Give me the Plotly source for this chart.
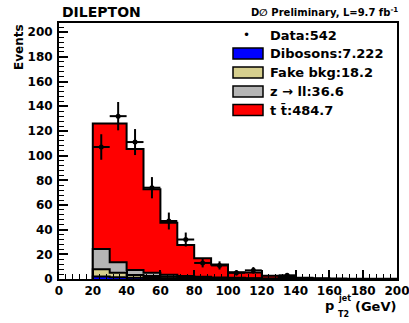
import numpy as np
import plotly.graph_objects as go

# bin edges (GeV), 10 GeV bins from 20 to 200
edges = [20, 30, 40, 50, 60, 70, 80, 90, 100, 110, 120, 130, 140, 150, 160, 170, 180, 190, 200]
centers = [25, 35, 45, 55, 65, 75, 85, 95, 105, 115, 125, 135, 145, 155, 165, 175, 185, 195]

# per-bin expectations
diboson = [2.0, 1.5, 1.0, 0.8, 0.6, 0.4, 0.3, 0.2, 0.15, 0.1, 0.05, 0.05, 0.03, 0.02, 0.01, 0.01, 0.0, 0.0]
fake = [5.9, 3.6, 2.2, 1.6, 1.3, 1.0, 0.8, 0.6, 0.4, 0.3, 0.2, 0.1, 0.1, 0.05, 0.03, 0.02, 0.01, 0.01]
zll = [16.5, 8.4, 4.1, 2.7, 1.5, 1.0, 0.7, 0.5, 0.4, 0.3, 0.2, 0.1, 0.08, 0.05, 0.03, 0.02, 0.01, 0.01]
ttbar = [101.6, 112.5, 98.1, 67.6, 42.2, 25.2, 15.0, 10.5, 4.5, 4.6, 2.2, 1.3, 0.9, 0.5, 0.35, 0.25, 0.15, 0.1]
data = [107, 132, 111, 74, 47, 32, 13, 11, 5, 7, 0, 3, 0, 0, 0, 0, 0, 0]

legend_labels = ["Data:542", "Dibosons:7.222", "Fake bkg:18.2", "z \u2192 ll:36.6", "t t\u0304:484.7"]

c_dib = "#0000ff"
c_fake = "#d6cf8e"
c_z = "#b5b5b5"
c_tt = "#ff0000"

s1 = np.array(diboson)
s2 = s1 + np.array(fake)
s3 = s2 + np.array(zll)
s4 = s3 + np.array(ttbar)

fig = go.Figure()

# cumulative step histograms, drawn top to bottom
for tot, col in [(s4, c_tt), (s3, c_z), (s2, c_fake), (s1, c_dib)]:
    xs = [edges[0]] + edges + [edges[-1]]
    ys = [0] + list(tot) + [tot[-1], 0]
    fig.add_trace(go.Scatter(x=xs, y=ys, mode="lines", line=dict(shape="hv", color="black", width=2),
                             fill="tozeroy", fillcolor=col, showlegend=False, hoverinfo="skip"))

d = np.array(data, dtype=float)
m = d > 0
fig.add_trace(go.Scatter(
    x=np.array(centers)[m], y=d[m], mode="markers",
    marker=dict(color="black", size=5),
    error_y=dict(type="data", array=np.sqrt(d[m]), color="black", thickness=2, width=0),
    error_x=dict(type="constant", value=5, color="black", thickness=2, width=0),
    showlegend=False))

fnt = "DejaVu Sans"

fig.update_xaxes(range=[0, 200], dtick=20, ticks="inside", ticklen=9, tickwidth=1.5, tickcolor="black",
                 minor=dict(ticks="inside", ticklen=5, dtick=4, tickcolor="black", tickwidth=1),
                 showline=True, linecolor="black", linewidth=2, mirror=True, showgrid=False, zeroline=False,
                 automargin=False, ticklabeloverflow="allow",
                 tickfont=dict(family=fnt, size=12, color="black", weight="bold"))
fig.update_yaxes(range=[0, 207.5], dtick=20, ticks="inside", ticklen=9, tickwidth=1.5, tickcolor="black",
                 minor=dict(ticks="inside", ticklen=5, dtick=4, tickcolor="black", tickwidth=1),
                 showline=True, linecolor="black", linewidth=2, mirror=True, showgrid=False, zeroline=False,
                 automargin=False, ticklabeloverflow="allow",
                 tickfont=dict(family=fnt, size=12, color="black", weight="bold"), ticklabelstandoff=2)

L, R, T, B = 59, 12, 23, 44
W, H = 409, 323
pw, ph = W - L - R, H - T - B


def px(x):
    return (x - L) / pw


def py(y):
    return (H - B - y) / ph


ann = []
shapes = []
ann.append(dict(x=px(60), y=py(12), xref="paper", yref="paper", text="<b>DILEPTON</b>", showarrow=False,
                xanchor="left", yanchor="middle", font=dict(family=fnt, size=14, color="black")))
ann.append(dict(x=px(400), y=py(12), xref="paper", yref="paper", text="<b>D\u2205 Preliminary, L=9.7 fb<sup>-1</sup></b>",
                showarrow=False, xanchor="right", yanchor="middle", font=dict(family=fnt, size=10, color="black")))
ann.append(dict(x=px(19), y=py(22), xref="paper", yref="paper", text="<b>Events</b>", textangle=-90, showarrow=False,
                xanchor="center", yanchor="top", font=dict(family=fnt, size=12, color="black")))
# x-axis title p_T2^jet (GeV)
ann.append(dict(x=px(398), y=py(306), xref="paper", yref="paper", text="<b>(GeV)</b>", showarrow=False,
                xanchor="right", yanchor="middle", font=dict(family=fnt, size=13, color="black")))
ann.append(dict(x=px(336), y=py(305), xref="paper", yref="paper", text="<b>p</b>", showarrow=False,
                xanchor="right", yanchor="middle", font=dict(family=fnt, size=13, color="black")))
ann.append(dict(x=px(336), y=py(298), xref="paper", yref="paper", text="<b>jet</b>", showarrow=False,
                xanchor="left", yanchor="middle", font=dict(family=fnt, size=8, color="black")))
ann.append(dict(x=px(336), y=py(314), xref="paper", yref="paper", text="<b>T2</b>", showarrow=False,
                xanchor="left", yanchor="middle", font=dict(family=fnt, size=8, color="black")))

# legend drawn by hand
rows = [35, 53.5, 72.5, 91.5, 110]
cols = [None, c_dib, c_fake, c_z, c_tt]
for yrow, col, lab in zip(rows, cols, legend_labels):
    if col is None:
        ann.append(dict(x=px(247), y=py(yrow), xref="paper", yref="paper", text="\u2022", showarrow=False,
                        xanchor="center", yanchor="middle", font=dict(family=fnt, size=12, color="black")))
    else:
        shapes.append(dict(type="rect", xref="paper", yref="paper", x0=px(233), x1=px(263),
                           y0=py(yrow - 5.5), y1=py(yrow + 5.5), fillcolor=col, line=dict(color="black", width=1.5)))
    ann.append(dict(x=px(268), y=py(yrow), xref="paper", yref="paper", text="<b>" + lab + "</b>", showarrow=False,
                    xanchor="left", yanchor="middle", font=dict(family=fnt, size=13, color="black")))

fig.update_layout(width=W, height=H, margin=dict(l=L, r=R, t=T, b=B), plot_bgcolor="white", paper_bgcolor="white",
                  annotations=ann, shapes=shapes, showlegend=False)

fig.write_html("out.html", config={"displayModeBar": False},
               post_script="document.body.style.margin='0';document.body.style.overflow='hidden';"
                           "document.documentElement.style.overflow='hidden';")
